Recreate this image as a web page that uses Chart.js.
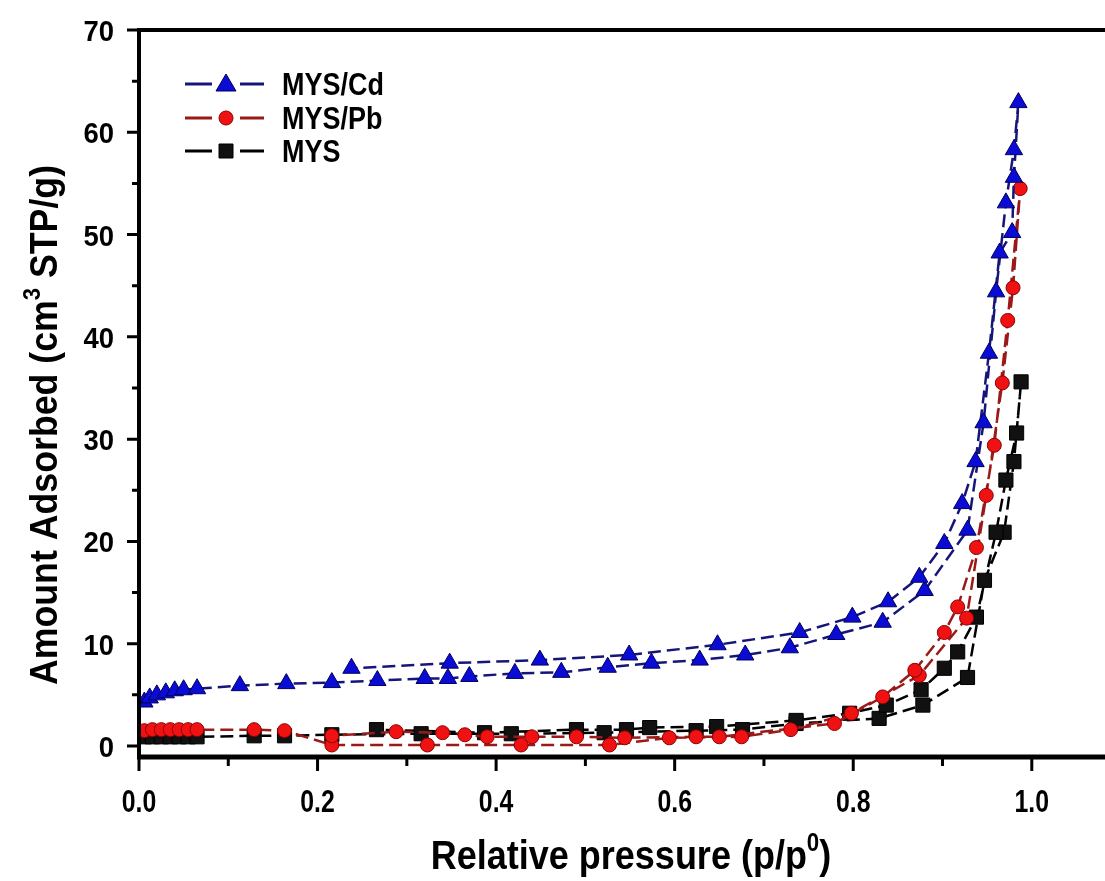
<!DOCTYPE html>
<html>
<head>
<meta charset="utf-8">
<script src="https://cdn.jsdelivr.net/npm/chart.js@4.4.1/dist/chart.umd.min.js"></script>
<style>
  html, body { margin: 0; padding: 0; background: #fff; }
  #wrap { width: 1105px; height: 881px; }
</style>
</head>
<body>
<div id="wrap"><canvas id="chart" width="1105" height="881"></canvas></div>
<script>
// relative pressure (p/p0) and amount adsorbed
// each loop goes up the adsorption branch and back down the desorption branch
const cdP = [0.006, 0.012, 0.02, 0.03, 0.04, 0.05, 0.065, 0.113, 0.165, 0.216, 0.267, 0.32, 0.346, 0.37, 0.421, 0.473, 0.525, 0.574, 0.628, 0.679, 0.729, 0.781, 0.833, 0.88, 0.928, 0.946, 0.96, 0.971, 0.98, 0.985,
  0.98, 0.978, 0.964, 0.952, 0.937, 0.922, 0.902, 0.874, 0.839, 0.799, 0.74, 0.648, 0.549, 0.449, 0.348, 0.238];
const cdV = [4.3, 4.7, 5.0, 5.2, 5.4, 5.5, 5.6, 5.9, 6.1, 6.2, 6.4, 6.6, 6.6, 6.8, 7.1, 7.2, 7.7, 8.1, 8.4, 8.9, 9.6, 10.9, 12.1, 15.2, 21.1, 31.6, 44.4, 53.1, 58.3, 62.9,
  55.6, 50.2, 48.2, 38.4, 27.8, 23.7, 19.8, 16.5, 14.1, 12.6, 11.1, 9.9, 8.9, 8.4, 8.1, 7.6];

const pbP = [0.006, 0.015, 0.025, 0.035, 0.045, 0.055, 0.065, 0.129, 0.163, 0.216, 0.323, 0.428, 0.527, 0.594, 0.675, 0.73, 0.798, 0.874, 0.927, 0.949, 0.967, 0.979, 0.987,
  0.973, 0.958, 0.938, 0.917, 0.902, 0.869, 0.833, 0.779, 0.65, 0.624, 0.544, 0.49, 0.44, 0.39, 0.365, 0.34, 0.288, 0.216];
const pbV = [1.5, 1.6, 1.6, 1.6, 1.6, 1.6, 1.6, 1.6, 1.5, 0.1, 0.1, 0.1, 0.1, 0.8, 0.9, 1.6, 3.2, 6.9, 12.5, 24.5, 35.5, 44.8, 54.5,
  41.6, 29.4, 19.4, 13.6, 11.1, 7.4, 4.8, 2.2, 0.9, 0.9, 0.8, 0.9, 0.9, 0.9, 1.1, 1.3, 1.4, 1.0];

const mysP = [0.006, 0.015, 0.025, 0.035, 0.045, 0.055, 0.065, 0.129, 0.163, 0.216, 0.316, 0.417, 0.521, 0.624, 0.676, 0.736, 0.829, 0.878, 0.928, 0.947, 0.969, 0.98, 0.988,
  0.983, 0.971, 0.96, 0.938, 0.917, 0.902, 0.876, 0.837, 0.796, 0.736, 0.647, 0.572, 0.546, 0.49, 0.387, 0.266];
const mysV = [0.9, 0.9, 0.9, 0.9, 0.9, 0.9, 0.9, 1.0, 1.0, 1.1, 1.2, 1.2, 1.3, 1.5, 1.6, 2.2, 2.7, 4.0, 6.7, 16.2, 20.9, 27.8, 35.6,
  30.6, 26.0, 20.9, 12.6, 9.2, 7.6, 5.5, 4.0, 3.2, 2.5, 1.9, 1.8, 1.6, 1.6, 1.3, 1.6];

const xLabels = [0, 0.2, 0.4, 0.6, 0.8, 1.0];
const xMinor = [0.1, 0.3, 0.5, 0.7, 0.9];
const yLabels = [0, 10, 20, 30, 40, 50, 60, 70];
const yMinor = [5, 15, 25, 35, 45, 55, 65];

const FONT = '"Liberation Sans", Arial, sans-serif';

function pts(p, v) {
  return p.map((x, i) => ({ x: x, y: v[i] }));
}

// text squeezed a little sideways and stretched up, like the original figure
function tallText(ctx, text, x, y, size, sx, sy, align) {
  ctx.save();
  ctx.translate(x, y);
  ctx.scale(sx, sy);
  ctx.font = "bold " + size + "px " + FONT;
  ctx.textAlign = align;
  ctx.fillText(text, 0, 0);
  ctx.restore();
}

// draws text with one superscript part, centred on cx
function drawParts(ctx, parts, cx, base, size) {
  let widths = parts.map(([t, sup]) => {
    ctx.font = "bold " + (sup ? size * 0.62 : size) + "px " + FONT;
    return ctx.measureText(t).width;
  });
  let total = widths.reduce((a, b) => a + b, 0);
  let x = cx - total / 2;
  parts.forEach(([t, sup], i) => {
    ctx.font = "bold " + (sup ? size * 0.62 : size) + "px " + FONT;
    ctx.fillText(t, x, sup ? base - size * 0.45 : base);
    x += widths[i];
  });
}

const framePlugin = {
  id: "frame",
  afterDraw(chart) {
    const { ctx, chartArea: a, scales } = chart;
    const xs = scales.x, ys = scales.y;
    const right = chart.width;
    ctx.save();
    ctx.strokeStyle = "#000";
    ctx.fillStyle = "#000";

    // ticks
    ctx.lineWidth = 3;
    ctx.beginPath();
    xLabels.forEach((v) => {
      const px = xs.getPixelForValue(v);
      ctx.moveTo(px, a.bottom); ctx.lineTo(px, a.bottom + 14);
    });
    xMinor.forEach((v) => {
      const px = xs.getPixelForValue(v);
      ctx.moveTo(px, a.bottom); ctx.lineTo(px, a.bottom + 9);
    });
    yLabels.forEach((v) => {
      const py = ys.getPixelForValue(v);
      ctx.moveTo(a.left, py); ctx.lineTo(a.left - 12, py);
    });
    yMinor.forEach((v) => {
      const py = ys.getPixelForValue(v);
      ctx.moveTo(a.left, py); ctx.lineTo(a.left - 7, py);
    });
    ctx.stroke();

    // axis frame (left, bottom, top)
    ctx.lineWidth = 4;
    ctx.beginPath();
    ctx.moveTo(a.left, a.top - 2); ctx.lineTo(a.left, a.bottom + 2);
    ctx.moveTo(a.left - 2, a.top); ctx.lineTo(right, a.top);
    ctx.stroke();
    ctx.lineWidth = 5;
    ctx.beginPath();
    ctx.moveTo(a.left - 2, a.bottom); ctx.lineTo(right, a.bottom);
    ctx.stroke();

    // tick labels
    ctx.textBaseline = "alphabetic";
    xLabels.forEach((v) => {
      tallText(ctx, v.toFixed(1), xs.getPixelForValue(v), 812, 27, 0.92, 1.15, "center");
    });
    yLabels.forEach((v) => {
      tallText(ctx, String(v), 114, ys.getPixelForValue(v) + 11, 28, 0.98, 1.08, "right");
    });

    // axis titles
    ctx.save();
    ctx.translate(631, 869);
    ctx.scale(1.0, 1.12);
    ctx.textAlign = "left";
    drawParts(ctx, [["Relative pressure (p/p", false], ["0", true], [")", false]], 0, 0, 36);
    ctx.restore();
    ctx.save();
    ctx.translate(57, 425);
    ctx.rotate(-Math.PI / 2);
    ctx.scale(1.02, 1.1);
    ctx.textAlign = "left";
    drawParts(ctx, [["Amount Adsorbed (cm", false], ["3", true], [" STP/g)", false]], 0, 0, 35);
    ctx.restore();

    // legend
    const rows = [84, 118, 151];
    chart.data.datasets.forEach((ds, i) => {
      const y = rows[i];
      ctx.strokeStyle = ds.borderColor;
      ctx.lineWidth = 3;
      ctx.beginPath();
      ctx.moveTo(185, y); ctx.lineTo(212, y);
      ctx.moveTo(240, y); ctx.lineTo(264, y);
      ctx.stroke();
      ctx.fillStyle = ds.pointBackgroundColor;
      ctx.strokeStyle = ds.pointBorderColor;
      ctx.lineWidth = 1;
      ctx.beginPath();
      if (ds.pointStyle === "triangle") {
        ctx.moveTo(226, y - 10); ctx.lineTo(236, y + 7); ctx.lineTo(216, y + 7); ctx.closePath();
      } else if (ds.pointStyle === "circle") {
        ctx.arc(226, y, 7, 0, Math.PI * 2);
      } else {
        ctx.rect(219, y - 7, 14, 14);
      }
      ctx.fill();
      ctx.stroke();
      ctx.fillStyle = "#000";
      tallText(ctx, ds.label, 282, y + 11, 29, 0.93, 1.1, "left");
    });
    ctx.restore();
  },
};

const chart = new Chart(document.getElementById("chart"), {
  type: "scatter",
  data: {
    datasets: [
      {
        label: "MYS/Cd",
        data: pts(cdP, cdV),
        showLine: true,
        borderColor: "#16167a",
        borderWidth: 2.5,
        borderDash: [13, 6],
        pointStyle: "triangle",
        pointRadius: 10,
        pointBackgroundColor: "#0b0bd6",
        pointBorderColor: "#00005a",
        pointBorderWidth: 1,
      },
      {
        label: "MYS/Pb",
        data: pts(pbP, pbV),
        showLine: true,
        borderColor: "#9a1a1a",
        borderWidth: 2.5,
        borderDash: [13, 6],
        pointStyle: "circle",
        pointRadius: 7,
        pointBackgroundColor: "#f01212",
        pointBorderColor: "#8a0000",
        pointBorderWidth: 1,
      },
      {
        label: "MYS",
        data: pts(mysP, mysV),
        showLine: true,
        borderColor: "#000000",
        borderWidth: 2.5,
        borderDash: [13, 6],
        pointStyle: "rect",
        pointRadius: 10,
        pointBackgroundColor: "#111111",
        pointBorderColor: "#000000",
        pointBorderWidth: 1,
      },
    ],
  },
  options: {
    responsive: false,
    animation: false,
    devicePixelRatio: 1,
    layout: { autoPadding: false, padding: { top: 30, right: 0, bottom: 0, left: 0 } },
    plugins: {
      legend: { display: false },
      tooltip: { enabled: false },
    },
    scales: {
      x: {
        type: "linear",
        min: 0,
        max: 1.082,
        afterBuildTicks: (s) => { s.ticks = xLabels.map((v) => ({ value: v })); },
        afterFit: (s) => { s.height = 124; s.paddingLeft = 0; s.paddingRight = 0; },
        grid: { display: false },
        border: { display: false },
        ticks: { display: false },
      },
      y: {
        type: "linear",
        min: -1.075,
        max: 70,
        afterBuildTicks: (s) => { s.ticks = yLabels.map((v) => ({ value: v })); },
        afterFit: (s) => { s.width = 139; s.paddingTop = 0; s.paddingBottom = 0; },
        grid: { display: false },
        border: { display: false },
        ticks: { display: false },
      },
    },
  },
  plugins: [framePlugin],
});
</script>
</body>
</html>
